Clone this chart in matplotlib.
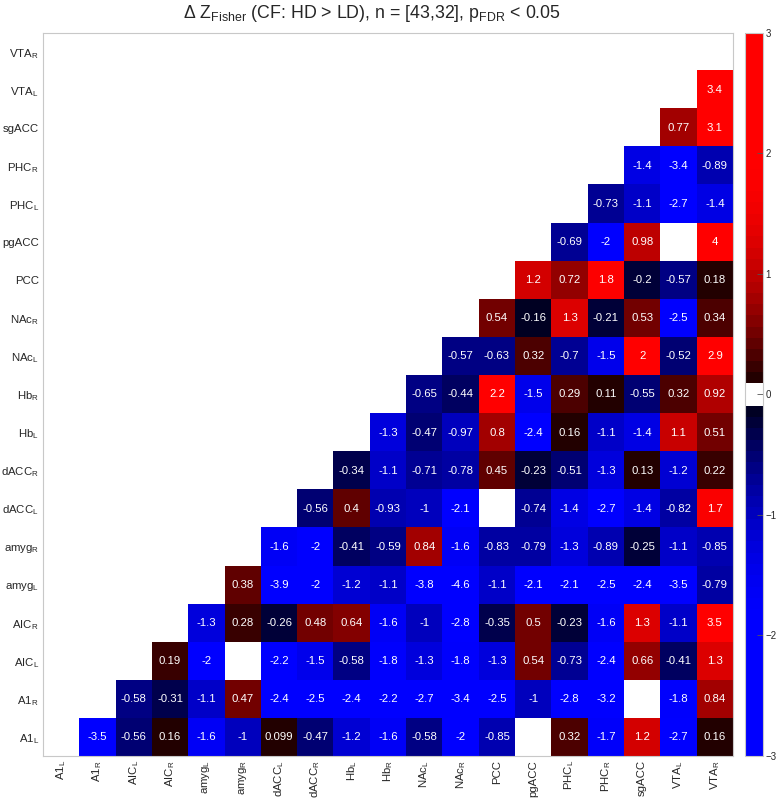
import numpy as np
import matplotlib
matplotlib.use("Agg")
import matplotlib.pyplot as plt
from matplotlib.colors import ListedColormap

plt.rcParams['font.family'] = ['Liberation Sans', 'DejaVu Sans']
plt.rcParams['mathtext.fontset'] = 'custom'
plt.rcParams['mathtext.rm'] = 'Liberation Sans'
plt.rcParams['mathtext.it'] = 'Liberation Sans'
plt.rcParams['mathtext.default'] = 'regular'

# region labels (bottom -> top, left -> right)
regions = ['A1$_L$', 'A1$_R$', 'AIC$_L$', 'AIC$_R$', 'amyg$_L$', 'amyg$_R$',
           'dACC$_L$', 'dACC$_R$', 'Hb$_L$', 'Hb$_R$', 'NAc$_L$', 'NAc$_R$',
           'PCC', 'pgACC', 'PHC$_L$', 'PHC$_R$', 'sgACC', 'VTA$_L$', 'VTA$_R$']

nan = np.nan
# upper triangle rows: values for columns j > i
row_A1L = [-3.5, -0.56, 0.16, -1.6, -1, 0.099, -0.47, -1.2, -1.6, -0.58, -2, -0.85, nan, 0.32, -1.7, 1.2, -2.7, 0.16]
row_A1R = [-0.58, -0.31, -1.1, 0.47, -2.4, -2.5, -2.4, -2.2, -2.7, -3.4, -2.5, -1, -2.8, -3.2, nan, -1.8, 0.84]
row_AICL = [0.19, -2, nan, -2.2, -1.5, -0.58, -1.8, -1.3, -1.8, -1.3, 0.54, -0.73, -2.4, 0.66, -0.41, 1.3]
row_AICR = [-1.3, 0.28, -0.26, 0.48, 0.64, -1.6, -1, -2.8, -0.35, 0.5, -0.23, -1.6, 1.3, -1.1, 3.5]
row_amygL = [0.38, -3.9, -2, -1.2, -1.1, -3.8, -4.6, -1.1, -2.1, -2.1, -2.5, -2.4, -3.5, -0.79]
row_amygR = [-1.6, -2, -0.41, -0.59, 0.84, -1.6, -0.83, -0.79, -1.3, -0.89, -0.25, -1.1, -0.85]
row_dACCL = [-0.56, 0.4, -0.93, -1, -2.1, nan, -0.74, -1.4, -2.7, -1.4, -0.82, 1.7]
row_dACCR = [-0.34, -1.1, -0.71, -0.78, 0.45, -0.23, -0.51, -1.3, 0.13, -1.2, 0.22]
row_HbL = [-1.3, -0.47, -0.97, 0.8, -2.4, 0.16, -1.1, -1.4, 1.1, 0.51]
row_HbR = [-0.65, -0.44, 2.2, -1.5, 0.29, 0.11, -0.55, 0.32, 0.92]
row_NAcL = [-0.57, -0.63, 0.32, -0.7, -1.5, 2, -0.52, 2.9]
row_NAcR = [0.54, -0.16, 1.3, -0.21, 0.53, -2.5, 0.34]
row_PCC = [1.2, 0.72, 1.8, -0.2, -0.57, 0.18]
row_pgACC = [-0.69, -2, 0.98, nan, 4]
row_PHCL = [-0.73, -1.1, -2.7, -1.4]
row_PHCR = [-1.4, -3.4, -0.89]
row_sgACC = [0.77, 3.1]
row_VTAL = [3.4]

rows = [row_A1L, row_A1R, row_AICL, row_AICR, row_amygL, row_amygR, row_dACCL,
        row_dACCR, row_HbL, row_HbR, row_NAcL, row_NAcR, row_PCC, row_pgACC,
        row_PHCL, row_PHCR, row_sgACC, row_VTAL]

n = len(regions)
M = np.full((n, n), np.nan)
for i, r in enumerate(rows):
    M[i, i + 1:] = r

# blue - black - white - black - red colormap, 64 levels
nlev = 64
centers = -3 + (np.arange(nlev) + 0.5) * 6.0 / nlev
cols = []
for c in centers:
    a = min(abs(c), 2.0) / 2.0
    k = 1 - (1 - a) ** 2
    if abs(c) < 0.094:
        cols.append((1, 1, 1))
    elif c < 0:
        cols.append((0, 0, k))
    else:
        cols.append((k, 0, 0))
cmap = ListedColormap(cols)
cmap.set_bad('white')

fig = plt.figure(figsize=(7.77, 7.99), dpi=100)
ax = fig.add_axes([43 / 777, 1 - 756 / 799, 690 / 777, 723 / 799])
cax = fig.add_axes([745 / 777, 1 - 756 / 799, 18 / 777, 723 / 799])

im = ax.imshow(M, cmap=cmap, vmin=-3, vmax=3, origin='lower', aspect='auto',
               interpolation='nearest')

for i in range(n):
    for j in range(n):
        v = M[i, j]
        if not np.isnan(v):
            ax.text(j, i, '{:.2g}'.format(v), ha='center', va='center',
                    color='white', fontsize=8.2)

ax.set_xticks(range(n))
ax.set_yticks(range(n))
ax.set_xticklabels(regions, rotation=90, fontsize=8.2, color='#262626')
ax.set_yticklabels(regions, fontsize=8.2, color='#262626')
ax.tick_params(length=0, pad=3)
for s in ax.spines.values():
    s.set_color('#c8c8c8')
    s.set_linewidth(0.8)

fig.text(372 / 777, 1 - 14 / 799,
         r'$\Delta$ Z$_{Fisher}$ (CF: HD > LD), n = [43,32], p$_{FDR}$ < 0.05',
         fontsize=12.8, color='#262626', ha='center', va='center')

cb = fig.colorbar(im, cax=cax, ticks=[-3, -2, -1, 0, 1, 2, 3])
cb.outline.set_edgecolor('#c8c8c8')
cb.outline.set_linewidth(0.8)
cax.tick_params(labelsize=7, color='#555555', labelcolor='#262626',
                direction='in', length=4, width=0.6, pad=2)

fig.savefig('out.png', dpi=100)
